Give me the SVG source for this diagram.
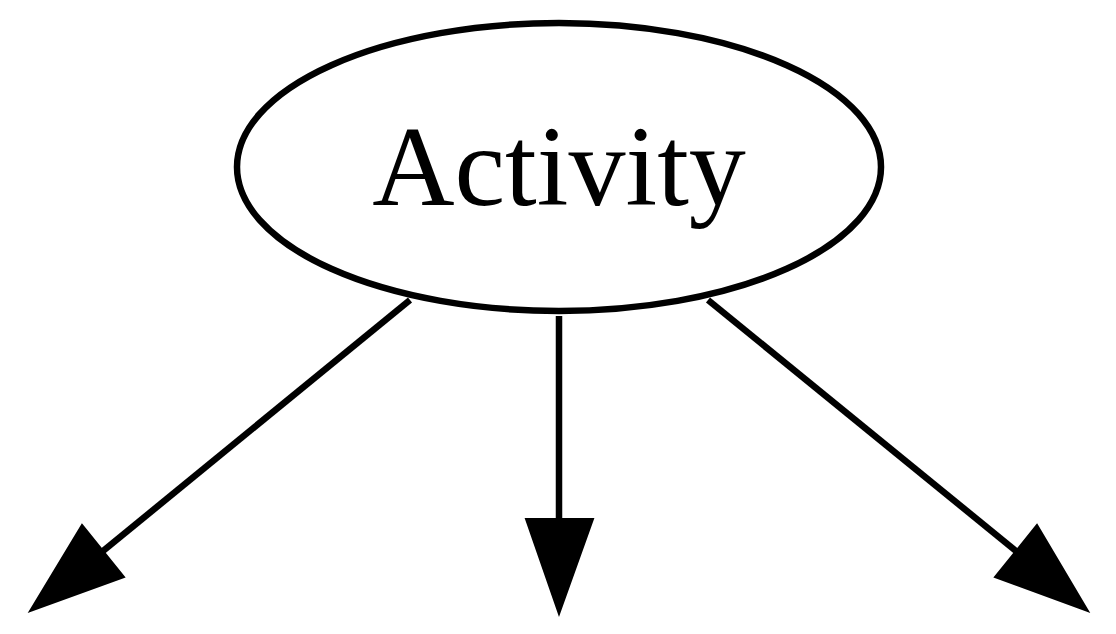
<svg xmlns="http://www.w3.org/2000/svg" width="1116" height="634" viewBox="0 0 1116 634">
<style>
.node ellipse{fill:#fff;stroke:#000;stroke-width:6.5}
.node text{font-family:"Liberation Serif","Times New Roman",serif;font-size:114px;fill:#000}
.edge line{stroke:#000;stroke-width:6.5}
.edge polygon{fill:#000;stroke:#000;stroke-width:2}
</style>
<rect width="1116" height="634" fill="#fff"/>
<g id="edges">
<g class="edge"><line x1="410" y1="300" x2="103" y2="551"/><polygon points="82,525 124,577 30,611"/></g>
<g class="edge"><line x1="559" y1="316" x2="559" y2="521"/><polygon points="526,519 593,519 559,614"/></g>
<g class="edge"><line x1="708" y1="300" x2="1016" y2="551"/><polygon points="1037,525 995,577 1088,611"/></g>
</g>
<g id="activity" class="node">
<ellipse cx="559" cy="167" rx="322" ry="144"/>
<text x="559" y="205" text-anchor="middle">Activity</text>
</g>
</svg>
